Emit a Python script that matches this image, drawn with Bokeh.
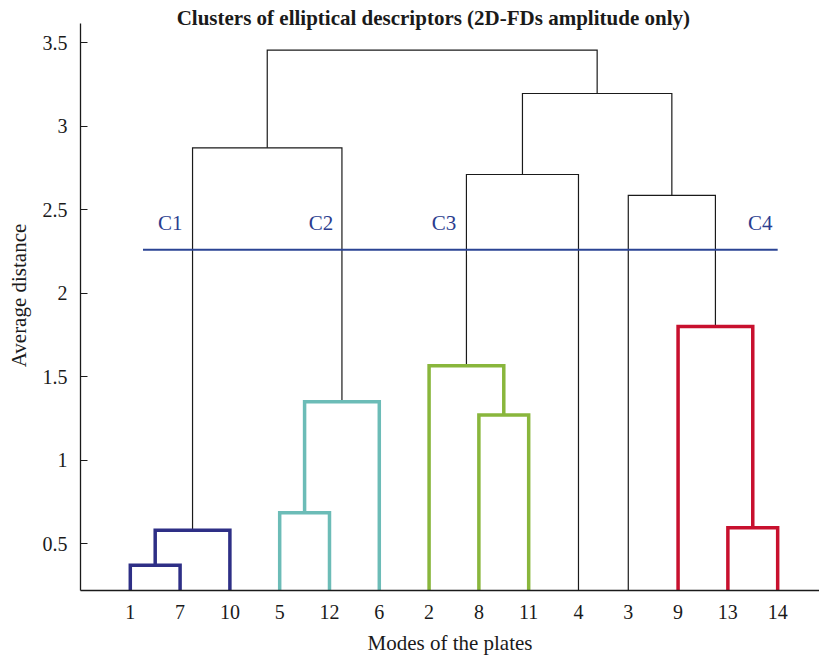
from bokeh.plotting import figure
from bokeh.models import Range1d, FixedTicker, Label, CustomJSTickFormatter
from bokeh.embed import file_html
from bokeh.resources import INLINE

# Leaf order along the x axis (plate mode numbers)
leaf_labels = ["1", "7", "10", "5", "12", "6", "2", "8", "11", "4", "3", "9", "13", "14"]

# Agglomeration steps: merged nodes, new node name, link height, cluster colour key
merge_a = ["1", "A", "5", "C", "8", "2", "13", "9", "B", "F", "3", "J", "I"]
merge_b = ["7", "10", "12", "6", "11", "E", "14", "G", "D", "4", "H", "K", "L"]
merge_node = ["A", "B", "C", "D", "E", "F", "G", "H", "I", "J", "K", "L", "M"]
merge_height = [0.37, 0.58, 0.685, 1.35, 1.27, 1.565, 0.595, 1.80, 2.87, 2.71, 2.585, 3.195, 3.455]
merge_cluster = ["C1", "C1", "C2", "C2", "C3", "C3", "C4", "C4", "", "", "", "", ""]

cut_height = 2.26
cluster_names = ["C1", "C2", "C3", "C4"]
cluster_colors = {"C1": "#2e2f86", "C2": "#6cbcb7", "C3": "#89b63c", "C4": "#c8102e", "": "#1a1a1a"}
y_ticks = [0.5, 1.0, 1.5, 2.0, 2.5, 3.0, 3.5]

SERIF = "Liberation Serif"
INK = "#1a1a1a"

# node positions: leaves at 1..n, height 0
pos = {lab: (i + 1, 0.0) for i, lab in enumerate(leaf_labels)}
xs_col, ys_col, xs_blk, ys_blk = [], [], [], []
for a, b, node, h, cl in zip(merge_a, merge_b, merge_node, merge_height, merge_cluster):
    xa, ha = pos[a]
    xb, hb = pos[b]
    xs = [xa, xa, xb, xb]
    ys = [ha, h, h, hb]
    if cl:
        xs_col.append(xs); ys_col.append(ys)
    else:
        xs_blk.append(xs); ys_blk.append(ys)
    pos[node] = ((xa + xb) / 2.0, h)
col_colors = [cluster_colors[c] for c in merge_cluster if c]

p = figure(width=819, height=661, x_range=Range1d(0, 14.84), y_range=Range1d(0.219, 3.752),
           output_backend="svg", toolbar_location=None,
           min_border_left=80, min_border_right=0, min_border_top=0, min_border_bottom=71)
p.grid.visible = False
p.outline_line_color = None
p.background_fill_color = "white"
p.border_fill_color = "white"

# dendrogram links
p.multi_line(xs_blk, ys_blk, line_color=INK, line_width=1.2, line_join="miter")
p.multi_line(xs_col, ys_col, line_color=col_colors, line_width=3.5, line_join="miter")

# cut-off line and cluster labels
p.line([1.255, 14.0], [cut_height, cut_height], line_color="#2b4494", line_width=2)
for name, cx in zip(cluster_names, [1.80, 4.83, 7.30, 13.65]):
    p.add_layout(Label(x=cx, y=2.422, text=name, text_align="center", text_baseline="middle",
                       text_font=SERIF, text_font_size="21px", text_color="#2b3d8f"))

# title
p.add_layout(Label(x=7.085, y=3.65, text="Clusters of elliptical descriptors (2D-FDs amplitude only)",
                   text_align="center", text_baseline="middle", text_font=SERIF,
                   text_font_size="21px", text_font_style="bold", text_color=INK))

# x axis
xa = p.xaxis[0]
xa.ticker = FixedTicker(ticks=list(range(1, len(leaf_labels) + 1)))
xa.major_label_overrides = {i + 1: lab for i, lab in enumerate(leaf_labels)}
xa.major_tick_line_color = None
xa.major_tick_in = 0
xa.major_tick_out = 0
xa.minor_tick_line_color = None
xa.major_label_standoff = 14
xa.axis_line_color = INK
xa.axis_line_width = 1.3
xa.axis_label = "Modes of the plates"
xa.axis_label_standoff = 9
xa.axis_label_text_font = SERIF
xa.axis_label_text_font_style = "normal"
xa.axis_label_text_font_size = "21px"
xa.axis_label_text_color = INK
xa.major_label_text_font = SERIF
xa.major_label_text_font_size = "20px"
xa.major_label_text_color = INK

# y axis
ya = p.yaxis[0]
ya.ticker = FixedTicker(ticks=y_ticks)
ya.formatter = CustomJSTickFormatter(code="return tick.toString();")
ya.bounds = (0.219, 3.614)
ya.major_tick_in = 7
ya.major_tick_out = 0
ya.major_tick_line_color = INK
ya.minor_tick_line_color = None
ya.major_label_standoff = 13
ya.axis_line_color = INK
ya.axis_line_width = 1.3
ya.axis_label = "Average distance"
ya.axis_label_standoff = 9
ya.axis_label_text_font = SERIF
ya.axis_label_text_font_style = "normal"
ya.axis_label_text_font_size = "21px"
ya.axis_label_text_color = INK
ya.major_label_text_font = SERIF
ya.major_label_text_font_size = "20px"
ya.major_label_text_color = INK

open("out.html", "w").write(file_html(p, INLINE))
